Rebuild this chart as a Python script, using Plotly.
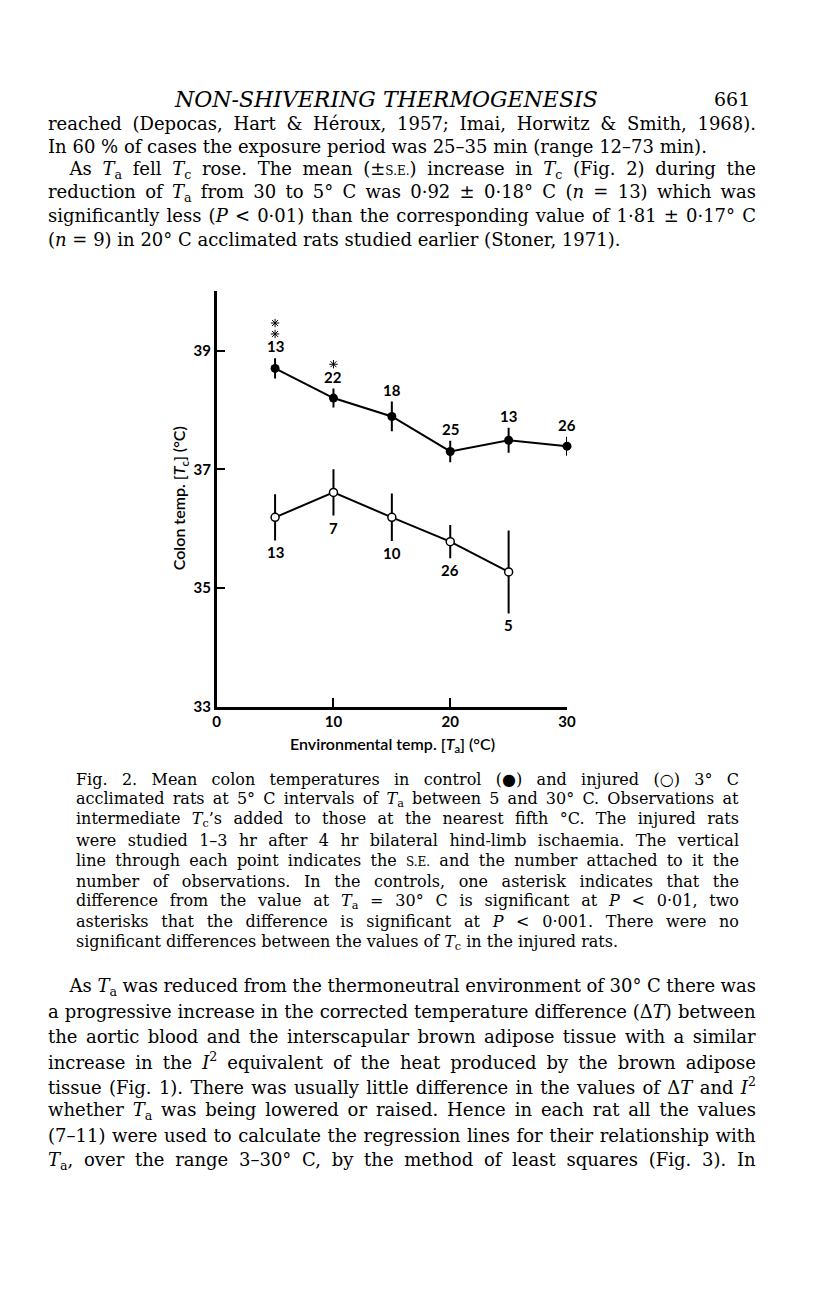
import json
import plotly.graph_objects as go

# Fig. 2 data: colon temperature vs environmental temperature
ta_control = [5, 10, 15, 20, 25, 30]
tc_control = [38.70, 38.20, 37.89, 37.30, 37.49, 37.39]
se_control = [0.17, 0.16, 0.25, 0.18, 0.21, 0.16]
n_control = ['13', '22', '18', '25', '13', '26']
stars_control = [2, 1, 0, 0, 0, 0]

ta_injured = [5, 10, 15, 20, 25]
tc_injured = [36.19, 36.61, 36.19, 35.78, 35.27]
se_injured = [0.39, 0.39, 0.40, 0.28, 0.70]
n_injured = ['13', '7', '10', '26', '5']

x_ticks = [0, 10, 20, 30]
y_ticks = [33, 35, 37, 39]

Ta = '<i>T</i><sub>a</sub>'
Tc = '<i>T</i><sub>c</sub>'
SE = "<span style='font-size:12px'>S.E.</span>"
IND = '\u2003\u2009'  # paragraph indent (not stretched by word-spacing)

header = '<i>NON-SHIVERING THERMOGENESIS</i>'
page_no = '661'

para1 = [
    'reached (Depocas, Hart & Héroux, 1957; Imai, Horwitz & Smith, 1968).',
    'In 60 % of cases the exposure period was 25–35 min (range 12–73 min).',
    IND + 'As ' + Ta + ' fell ' + Tc + ' rose. The mean (±' + SE + ') increase in ' + Tc + ' (Fig. 2) during the',
    'reduction of ' + Ta + ' from 30 to 5° C was 0·92 ± 0·18° C (<i>n</i> = 13) which was',
    'significantly less (<i>P</i> < 0·01) than the corresponding value of 1·81 ± 0·17° C',
    '(<i>n</i> = 9) in 20° C acclimated rats studied earlier (Stoner, 1971).',
]
para1_end = [1, 5]

caption = [
    'Fig. 2. Mean colon temperatures in control (●) and injured (○) 3° C',
    'acclimated rats at 5° C intervals of ' + Ta + ' between 5 and 30° C. Observations at',
    'intermediate ' + Tc + '’s added to those at the nearest fifth °C. The injured rats',
    'were studied 1–3 hr after 4 hr bilateral hind-limb ischaemia. The vertical',
    'line through each point indicates the ' + SE + ' and the number attached to it the',
    'number of observations. In the controls, one asterisk indicates that the',
    'difference from the value at ' + Ta + ' = 30° C is significant at <i>P</i> < 0·01, two',
    'asterisks that the difference is significant at <i>P</i> < 0·001. There were no',
    'significant differences between the values of ' + Tc + ' in the injured rats.',
]
caption_end = [8]

para2 = [
    IND + 'As ' + Ta + ' was reduced from the thermoneutral environment of 30° C there was',
    'a progressive increase in the corrected temperature difference (Δ<i>T</i>) between',
    'the aortic blood and the interscapular brown adipose tissue with a similar',
    'increase in the <i>I</i><sup>2</sup> equivalent of the heat produced by the brown adipose',
    'tissue (Fig. 1). There was usually little difference in the values of Δ<i>T</i> and <i>I</i><sup>2</sup>',
    'whether ' + Ta + ' was being lowered or raised. Hence in each rat all the values',
    '(7–11) were used to calculate the regression lines for their relationship with',
    Ta + ', over the range 3–30° C, by the method of least squares (Fig. 3). In',
]
para2_end = []

W, H = 816, 1296
serif = 'DejaVu Serif'
sans = 'Lato'

# plot frame in page pixels
X0, X1 = 208, 564
Y_BOT, Y_TOP = 703, 285
px_per_deg = (Y_BOT - Y_TOP) / 7.0

fig = go.Figure()

fig.add_trace(go.Scatter(
    x=ta_control, y=tc_control, mode='lines+markers',
    line=dict(color='black', width=2),
    marker=dict(color='black', size=9),
    error_y=dict(type='data', array=se_control, color='black', thickness=2, width=0),
    cliponaxis=False))

fig.add_trace(go.Scatter(
    x=ta_injured, y=tc_injured, mode='lines+markers',
    line=dict(color='black', width=2),
    marker=dict(color='white', size=8, line=dict(color='black', width=1.5)),
    error_y=dict(type='data', array=se_injured, color='black', thickness=2, width=0),
    cliponaxis=False))

# significance asterisks stacked above the control n labels
sx, sy = [], []
for x, y, s, k in zip(ta_control, tc_control, se_control, stars_control):
    for j in range(k):
        sx.append(x)
        sy.append(y + s + (24.5 + 11 * j) / px_per_deg)
fig.add_trace(go.Scatter(
    x=sx, y=sy, mode='markers', cliponaxis=False,
    marker=dict(symbol='asterisk-open', size=7, color='black',
                line=dict(color='black', width=1))))

ann = []
lab_font = dict(family=sans, size=15, color='black', weight=700)

# n labels above control points, below injured points
for x, y, s, n in zip(ta_control, tc_control, se_control, n_control):
    ann.append(dict(x=x, y=y + s, text=n, showarrow=False, yanchor='bottom', yshift=1,
                    font=lab_font))
for x, y, s, n in zip(ta_injured, tc_injured, se_injured, n_injured):
    ann.append(dict(x=x, y=y - s, text=n, showarrow=False, yanchor='top', yshift=-1,
                    font=lab_font))

# axis titles
ann.append(dict(xref='paper', yref='paper', x=387 / W, y=1 - 741 / H,
                xanchor='center', yanchor='middle',
                text='Environmental temp. [' + Ta + '] (°C)', showarrow=False,
                font=dict(family=sans, size=16, color='black', weight=600)))
ann.append(dict(xref='paper', yref='paper', x=171 / W, y=1 - 493 / H,
                xanchor='center', yanchor='middle',
                text='Colon temp. [' + Tc + '] (°C)', showarrow=False, textangle=-90,
                font=dict(family=sans, size=16, color='black', weight=600)))

# page text
ann.append(dict(xref='paper', yref='paper', x=380 / W, y=1 - 92 / H, text=header,
                xanchor='center', yanchor='middle',
                showarrow=False, font=dict(family=serif, size=22, color='black')))
ann.append(dict(xref='paper', yref='paper', x=752 / W, y=1 - 92 / H, text=page_no,
                xanchor='right', yanchor='middle', showarrow=False,
                font=dict(family=serif, size=19, color='black')))

justify = {}  # annotation index -> right edge (px) to justify to


def add_lines(lines, ends, x0, right, y0, dy, size):
    for i, t in enumerate(lines):
        if i not in ends:
            justify[len(ann)] = right
        ann.append(dict(xref='paper', yref='paper', x=x0 / W, y=1 - (y0 + i * dy) / H,
                        text=t, xanchor='left', yanchor='middle', align='left',
                        showarrow=False, font=dict(family=serif, size=size, color='black')))


add_lines(para1, para1_end, 35, 748, 116, 23.3, 18)
add_lines(caption, caption_end, 63, 731, 776, 20.5, 16)
add_lines(para2, para2_end, 35, 748, 985, 25, 18)

fig.update_layout(
    width=W, height=H, margin=dict(l=0, r=0, t=0, b=0),
    paper_bgcolor='white', plot_bgcolor='white', showlegend=False,
    annotations=ann,
    xaxis=dict(domain=[X0 / W, X1 / W], range=[0, 30], tickvals=x_ticks,
               showline=True, linecolor='black', linewidth=2.5, ticks='inside',
               ticklen=9, tickwidth=2, tickcolor='black', showgrid=False, zeroline=False,
               tickfont=lab_font),
    yaxis=dict(domain=[1 - Y_BOT / H, 1 - Y_TOP / H], range=[33, 40], tickvals=y_ticks,
               showline=True, linecolor='black', linewidth=2.5, ticks='inside',
               ticklen=9, tickwidth=2, tickcolor='black', showgrid=False, zeroline=False,
               tickfont=lab_font),
)

# justify the book text by stretching word spacing to the right margin
js = """
var gd = document.getElementById('{plot_id}');
var just = JUST;
var gl = gd.getBoundingClientRect().left;
gd.querySelectorAll('g.annotation').forEach(function (g) {
    var r = just[g.getAttribute('data-index')];
    if (r === undefined) return;
    var t = g.querySelector('text.annotation-text');
    var n = (t.textContent.match(/ /g) || []).length;
    if (!n) return;
    var b = t.getBoundingClientRect();
    t.style.wordSpacing = ((r - (b.right - gl)) / n) + 'px';
});
""".replace('JUST', json.dumps({str(k): v for k, v in justify.items()}))

fig.write_html('out.html', post_script=js)
